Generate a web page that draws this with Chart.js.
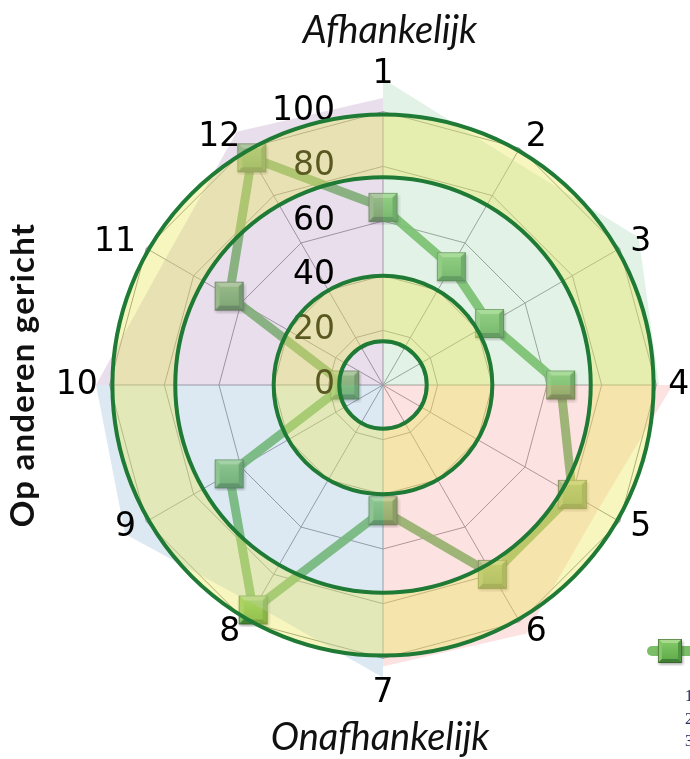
<!DOCTYPE html>
<html>
<head>
<meta charset="utf-8">
<script src="https://cdn.jsdelivr.net/npm/chart.js@4/dist/chart.umd.min.js"></script>
<style>
  html, body { margin: 0; padding: 0; background: #ffffff; overflow: hidden; }
  #wrap { position: relative; width: 690px; height: 759px; overflow: hidden; }
  canvas { display: block; }
</style>
</head>
<body>
<div id="wrap"><canvas id="radar" width="711" height="759"></canvas></div>
<script>
// ---- chart data ----
const axisLabels = ['1', '2', '3', '4', '5', '6', '7', '8', '9', '10', '11', '12'];
const scores = [65, 50, 45, 65, 80, 80, 46, 95, 65, 14, 65, 96];

// coloured background sectors, one per quarter of the wheel
const sectorGreen  = [112, 95, 108, 101, 0, 0, 0, 0, 0, 0, 0, 0];
const sectorRed    = [0, 0, 0, 106, 91, 105, 103, 0, 0, 0, 0, 0];
const sectorBlue   = [0, 0, 0, 0, 0, 0, 107, 93, 109, 105, 0, 0];
const sectorPurple = [105, 0, 0, 0, 0, 0, 0, 0, 0, 105, 92, 107];

// value axis: gridlines and labels run 0..100, the scale leaves headroom for the sectors
const gridMax = 100, scaleMax = 120, scaleStep = 20;

// rings and the shaded bands between them (in scale units)
const ringValues = [16, 40, 76, 99];
const bandRanges = [[16, 40], [76, 99]];

const titleTop = 'Afhankelijk';
const titleBottom = 'Onafhankelijk';
const titleLeft = 'Op anderen gericht';
const legendNotes = ['1', '2', '3'];

// ---- bevelled square marker ----
function makeMarker(size) {
  const pad = 3;
  const c = document.createElement('canvas');
  c.width = size + pad * 2; c.height = size + pad * 2;
  const g = c.getContext('2d');
  const x0 = pad, y0 = pad, s = size, b = Math.round(size * 0.17);
  g.save();
  g.shadowColor = 'rgba(0,0,0,0.35)'; g.shadowBlur = 3; g.shadowOffsetX = 1; g.shadowOffsetY = 1.5;
  g.fillStyle = '#5a9a48'; g.fillRect(x0, y0, s, s);
  g.restore();
  const face = (pts, col) => { g.beginPath(); g.moveTo(pts[0], pts[1]); for (let i = 2; i < pts.length; i += 2) g.lineTo(pts[i], pts[i + 1]); g.closePath(); g.fillStyle = col; g.fill(); };
  face([x0, y0, x0 + s, y0, x0 + s - b, y0 + b, x0 + b, y0 + b], '#a8dc8c');
  face([x0, y0, x0 + b, y0 + b, x0 + b, y0 + s - b, x0, y0 + s], '#88c66e');
  face([x0 + s, y0, x0 + s, y0 + s, x0 + s - b, y0 + s - b, x0 + s - b, y0 + b], '#519642');
  face([x0, y0 + s, x0 + b, y0 + s - b, x0 + s - b, y0 + s - b, x0 + s, y0 + s], '#407f35');
  const grd = g.createLinearGradient(0, y0 + b, 0, y0 + s - b);
  grd.addColorStop(0, '#80c664'); grd.addColorStop(1, '#62ad4d');
  g.fillStyle = grd; g.fillRect(x0 + b, y0 + b, s - 2 * b, s - 2 * b);
  g.strokeStyle = 'rgba(45,85,35,0.55)'; g.lineWidth = 1;
  g.strokeRect(x0 + 0.5, y0 + 0.5, s - 1, s - 1);
  return c;
}
const marker = makeMarker(29);
const legendMarker = makeMarker(24);

const GRID_COLOR = '#8c8c8c';

// ---- overlay drawing: spokes, tick labels, bands, rings, axis labels, titles ----
const overlay = {
  id: 'overlay',
  beforeDatasetsDraw(chart) {
    // spokes from the centre to the outer (100) polygon
    const r = chart.scales.r, ctx = chart.ctx;
    const d = r.getDistanceFromCenterForValue(gridMax);
    ctx.save();
    ctx.strokeStyle = GRID_COLOR;
    ctx.lineWidth = 1;
    axisLabels.forEach((_, i) => {
      const p = r.getPointPosition(i, d);
      ctx.beginPath(); ctx.moveTo(r.xCenter, r.yCenter); ctx.lineTo(p.x, p.y); ctx.stroke();
    });
    ctx.restore();
  },
  afterDatasetsDraw(chart) {
    const r = chart.scales.r, ctx = chart.ctx;
    const cx = r.xCenter, cy = r.yCenter;
    ctx.save();
    // value labels beside the vertical spoke, under the bands
    ctx.font = '33px "DejaVu Sans"';
    ctx.fillStyle = '#000000';
    ctx.textAlign = 'right';
    ctx.textBaseline = 'middle';
    r.ticks.filter(t => t.value <= gridMax).forEach(t => {
      const d = r.getDistanceFromCenterForValue(t.value);
      ctx.fillText(t.label, cx - 48, cy - d);
    });
    // yellow bands
    ctx.fillStyle = 'rgba(234,232,88,0.38)';
    bandRanges.forEach(([a, b]) => {
      ctx.beginPath();
      ctx.arc(cx, cy, r.getDistanceFromCenterForValue(b), 0, Math.PI * 2);
      ctx.arc(cx, cy, r.getDistanceFromCenterForValue(a), 0, Math.PI * 2, true);
      ctx.fill('evenodd');
    });
    // green rings
    ctx.strokeStyle = '#1f7a35';
    ctx.lineWidth = 4;
    ringValues.forEach(v => {
      ctx.beginPath();
      ctx.arc(cx, cy, r.getDistanceFromCenterForValue(v), 0, Math.PI * 2);
      ctx.stroke();
    });
    // axis numbers around the wheel
    ctx.font = '33px "DejaVu Sans"';
    ctx.fillStyle = '#000000';
    const labelDist = r.getDistanceFromCenterForValue(104.4);
    axisLabels.forEach((lab, i) => {
      const p = r.getPointPosition(i, labelDist);
      const cs = Math.cos(p.angle), sn = Math.sin(p.angle);
      if (Math.abs(cs) < 0.01) {
        ctx.textAlign = 'center';
        ctx.textBaseline = 'middle';
        ctx.fillText(lab, p.x, p.y + (sn > 0 ? 23 : -25));
      } else {
        ctx.textAlign = cs > 0 ? 'left' : 'right';
        ctx.textBaseline = 'middle';
        ctx.fillText(lab, p.x, p.y);
      }
    });
    // titles
    ctx.fillStyle = '#111111';
    ctx.textAlign = 'center';
    ctx.textBaseline = 'alphabetic';
    ctx.font = 'italic 38px Lato';
    ctx.fillText(titleTop, cx + 7, 43);
    ctx.fillText(titleBottom, cx - 3, 750);
    ctx.translate(34, cy - 10);
    ctx.rotate(-Math.PI / 2);
    ctx.font = 'bold 33px Lato';
    ctx.letterSpacing = '1.2px';
    ctx.fillText(titleLeft, 0, 0);
    ctx.restore();

    // legend, running off the right edge
    ctx.save();
    ctx.strokeStyle = 'rgba(108,184,88,0.9)';
    ctx.lineWidth = 10;
    ctx.lineCap = 'round';
    ctx.beginPath(); ctx.moveTo(652, 651); ctx.lineTo(700, 651); ctx.stroke();
    ctx.drawImage(legendMarker, 670 - legendMarker.width / 2, 651 - legendMarker.height / 2);
    ctx.font = '16px "Liberation Serif"';
    ctx.fillStyle = '#1f2a5c';
    ctx.textAlign = 'left';
    ctx.textBaseline = 'middle';
    legendNotes.forEach((t, i) => ctx.fillText(t, 685, 697 + i * 22.5));
    ctx.restore();
  }
};

const sector = (data, color) => ({
  data, order: 0, fill: true, backgroundColor: color, borderWidth: 0,
  pointRadius: 0, pointHoverRadius: 0, clip: false
});

new Chart(document.getElementById('radar'), {
  type: 'radar',
  data: {
    labels: axisLabels,
    datasets: [
      {
        label: 'Score', data: scores, order: 1, fill: false,
        borderColor: 'rgba(98,180,78,0.92)', borderWidth: 9,
        borderJoinStyle: 'round', borderCapStyle: 'round',
        pointStyle: marker, pointRadius: 15, pointHoverRadius: 15, clip: false
      },
      sector(sectorGreen,  'rgba(172,218,183,0.35)'),
      sector(sectorRed,    'rgba(249,172,172,0.35)'),
      sector(sectorBlue,   'rgba(158,192,218,0.35)'),
      sector(sectorPurple, 'rgba(189,161,201,0.35)')
    ]
  },
  options: {
    responsive: false, animation: false, devicePixelRatio: 1,
    layout: { padding: { left: 55, right: 0, top: 57, bottom: 46 } },
    plugins: { legend: { display: false }, tooltip: { enabled: false } },
    scales: {
      r: {
        min: 0, max: scaleMax,
        ticks: { stepSize: scaleStep, display: false },
        pointLabels: { display: false },
        grid: {
          color: c => (c.tick && c.tick.value > gridMax) ? 'rgba(0,0,0,0)' : GRID_COLOR,
          lineWidth: 1
        },
        angleLines: { display: false }
      }
    }
  },
  plugins: [overlay]
});
</script>
</body>
</html>
